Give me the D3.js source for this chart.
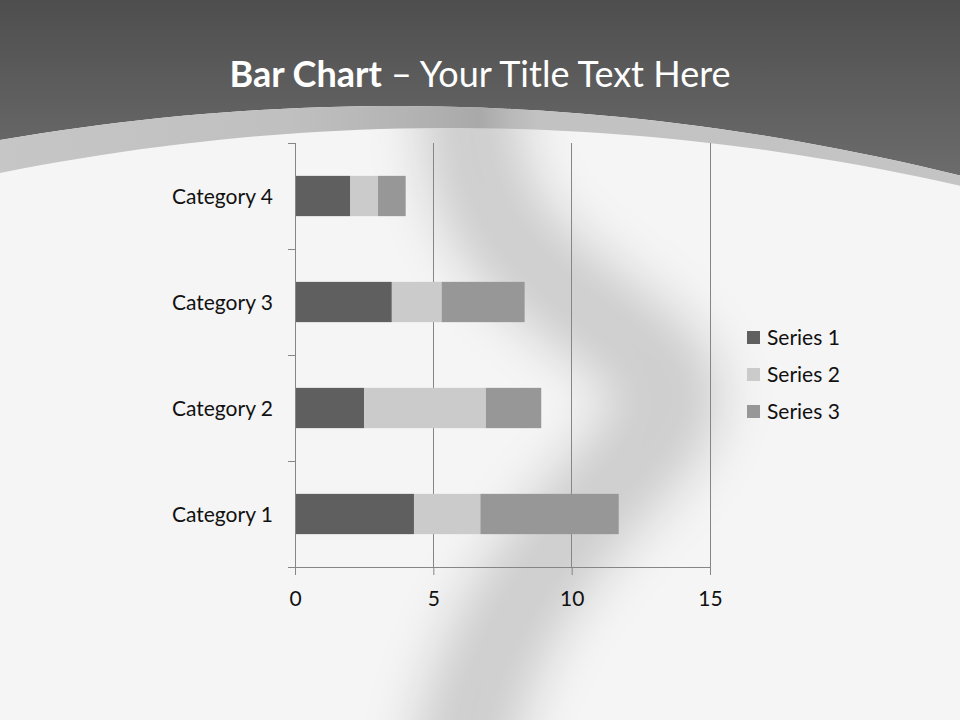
<!DOCTYPE html>
<html>
<head>
<meta charset="utf-8">
<script src="https://cdn.jsdelivr.net/npm/d3@7"></script>
<style>
  html, body { margin: 0; padding: 0; background: #f5f5f5; }
  svg { display: block; }
</style>
</head>
<body>
<script>
// ---- Data ----
const categories = ["Category 1", "Category 2", "Category 3", "Category 4"];
const seriesNames = ["Series 1", "Series 2", "Series 3"];
const series1 = [4.3, 2.5, 3.5, 2.0];
const series2 = [2.4, 4.4, 1.8, 1.0];
const series3 = [5.0, 2.0, 3.0, 1.0];
const xTicks = [0, 5, 10, 15];
const seriesColors = ["#5f5f5f", "#cbcbcb", "#979797"];
const titleBold = "Bar Chart";
const titleRest = " \u2013 Your Title Text Here";

const W = 960, H = 720;
const svg = d3.select("body").append("svg").attr("width", W).attr("height", H);
const defs = svg.append("defs");

// ---- Background decoration ----
const hg = defs.append("linearGradient").attr("id", "hdr").attr("x1", 0).attr("y1", 0).attr("x2", 0).attr("y2", 1);
hg.append("stop").attr("offset", "0%").attr("stop-color", "#4e4e4e");
hg.append("stop").attr("offset", "100%").attr("stop-color", "#6c6c6c");

const bg = defs.append("linearGradient").attr("id", "band").attr("x1", 0).attr("y1", 0).attr("x2", 1).attr("y2", 0);
[[0, "#c6c6c6"], [0.3, "#c0c0c0"], [0.42, "#b4b4b4"], [0.5, "#a9a9a9"], [0.53, "#b8b8b8"], [0.56, "#c2c2c2"], [1, "#c4c4c4"]]
  .forEach(([o, c]) => bg.append("stop").attr("offset", o).attr("stop-color", c));

const blur = defs.append("filter").attr("id", "blur").attr("x", "-50%").attr("y", "-50%").attr("width", "200%").attr("height", "200%");
blur.append("feGaussianBlur").attr("stdDeviation", 26);

// parabolic arcs for the header edge (decoration)
const arc = (vx, vy, k) => d3.range(0, 961, 20).map(xx => [xx, vy + k * (xx - vx) * (xx - vx)]);
const bandTop = arc(395, 106, 0.000218);
const whiteTop = arc(450, 128, 0.000222);
const line = d3.line();
const join = p => "L" + p.slice(1);

svg.append("rect").attr("width", W).attr("height", H).attr("fill", "#f5f5f5");

// soft S-shaped shadow
const curve = d3.line().curve(d3.curveNatural);
const shadowClip = defs.append("clipPath").attr("id", "shClip");
shadowClip.append("path").attr("d", line(bandTop) + "L960,720L0,720Z");
svg.append("g").attr("clip-path", "url(#shClip)")
  .append("path")
  .attr("d", curve([[470, 60], [480, 180], [550, 280], [660, 370], [650, 440], [580, 520], [510, 620], [470, 720], [460, 780]]))
  .attr("fill", "none").attr("stroke", "#000").attr("stroke-opacity", 0.16)
  .attr("stroke-width", 100).attr("filter", "url(#blur)");

// header
svg.append("path").attr("d", "M0,0L960,0" + join(line(bandTop.slice().reverse())) + "Z")
  .attr("fill", "url(#hdr)");
// light band
svg.append("path")
  .attr("d", line(bandTop) + join(line(whiteTop.slice().reverse())) + "Z")
  .attr("fill", "url(#band)");

// ---- Title ----
const title = svg.append("text").attr("x", 480).attr("y", 87).attr("text-anchor", "middle")
  .attr("font-family", "Lato, 'Open Sans', sans-serif").attr("font-size", 36).attr("fill", "#ffffff");
title.append("tspan").attr("font-weight", "bold").text(titleBold);
title.append("tspan").text(titleRest);

// ---- Chart ----
const x = d3.scaleLinear().domain([0, 15]).range([295, 710]);
const y = d3.scaleBand().domain(categories.slice().reverse()).range([143, 567])
  .paddingInner(0.62).paddingOuter(0.31);
const step = y.step();
const axisColor = "#868686";
const font = "Lato, 'Open Sans', sans-serif";

const g = svg.append("g");
// gridlines
g.selectAll("line.grid").data(xTicks.slice(1)).join("line")
  .attr("x1", d => x(d)).attr("x2", d => x(d)).attr("y1", 143).attr("y2", 567)
  .attr("stroke", axisColor).attr("stroke-width", 1).attr("shape-rendering", "crispEdges");

// stacked bars
const table = categories.map((c, i) => ({ cat: c, "Series 1": series1[i], "Series 2": series2[i], "Series 3": series3[i] }));
const stacked = d3.stack().keys(seriesNames)(table);
g.selectAll("g.series").data(stacked).join("g")
  .attr("fill", (d, i) => seriesColors[i])
  .selectAll("rect").data(d => d).join("rect")
  .attr("x", d => x(d[0])).attr("width", d => x(d[1]) - x(d[0]))
  .attr("y", d => y(d.data.cat)).attr("height", y.bandwidth());

// y axis line + ticks at band boundaries
g.append("line").attr("x1", 295).attr("x2", 295).attr("y1", 143).attr("y2", 567)
  .attr("stroke", axisColor).attr("shape-rendering", "crispEdges");
const boundaries = d3.range(categories.length + 1).map(i => 143 + i * step);
g.selectAll("line.ytick").data(boundaries).join("line")
  .attr("x1", 288).attr("x2", 295).attr("y1", d => d).attr("y2", d => d)
  .attr("stroke", axisColor).attr("shape-rendering", "crispEdges");

// category labels
g.selectAll("text.cat").data(categories).join("text")
  .attr("x", 273).attr("y", d => y(d) + y.bandwidth() / 2 + 7.5)
  .attr("text-anchor", "end").attr("font-family", font).attr("font-size", 21).attr("fill", "#111")
  .text(d => d);

// x axis
const xAxis = d3.axisBottom(x).tickValues(xTicks).tickSize(8).tickFormat(d3.format("d"));
const xa = g.append("g").attr("transform", "translate(0,567)").call(xAxis);
xa.select(".domain").attr("stroke", axisColor);
xa.selectAll(".tick line").attr("stroke", axisColor);
xa.selectAll(".tick text").attr("font-family", font).attr("font-size", 21).attr("fill", "#111")
  .attr("dy", null).attr("y", 39);

// legend
const leg = svg.append("g").selectAll("g").data(seriesNames).join("g")
  .attr("transform", (d, i) => `translate(747,${331 + i * 37})`);
leg.append("rect").attr("width", 13).attr("height", 13).attr("fill", (d, i) => seriesColors[i]);
leg.append("text").attr("x", 20).attr("y", 13.5).attr("font-family", font).attr("font-size", 21)
  .attr("fill", "#111").text(d => d);
</script>
</body>
</html>
